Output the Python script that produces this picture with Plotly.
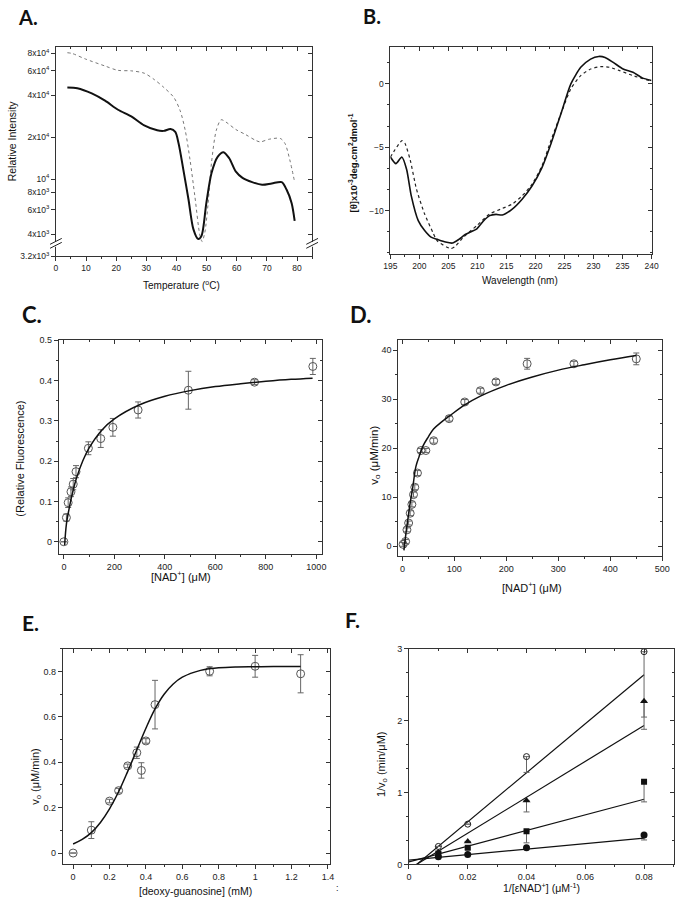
import plotly.graph_objects as go

W, H = 683, 905
FONT = "Liberation Sans, Arial, sans-serif"
LETTER_FONT = "Lato, Open Sans, sans-serif"

# ---------------- Panel A: thermal scan (log y) ----------------
a_temp_dot = [3.8, 5.4, 9.8, 16.3, 20.6, 25.0, 29.3, 32.6, 35.8, 39.1, 41.2, 42.9, 44.5, 46.1,
              47.8, 48.5, 49.4, 50.5, 51.6, 53.2, 54.8, 56.4, 59.7, 62.9, 66.2, 67.8, 70.6,
              74.4, 76.0, 77.6, 79.2]
a_int_dot = [8.1e4, 8.0e4, 7.3e4, 6.5e4, 6.05e4, 6.0e4, 5.77e4, 5.2e4, 4.56e4, 3.87e4, 3.11e4,
             2.24e4, 1.37e4, 7.5e3, 3.9e3, 3.55e3, 4.13e3, 6.7e3, 1.3e4, 2.24e4, 2.67e4, 2.57e4,
             2.27e4, 2.09e4, 1.9e4, 1.85e4, 1.93e4, 1.96e4, 1.8e4, 1.37e4, 9.5e3]
a_temp_sol = [3.8, 7.1, 11.9, 16.3, 20.6, 25.0, 29.3, 33.6, 35.8, 38.0, 39.6, 40.7, 42.3, 44.0,
              45.6, 47.2, 48.3, 49.9, 51.6, 53.7, 55.6, 57.5, 59.7, 61.9, 65.1, 68.4, 71.6,
              74.9, 76.5, 78.2, 79.2]
a_int_sol = [4.56e4, 4.5e4, 4.13e4, 3.66e4, 3.15e4, 2.82e4, 2.43e4, 2.24e4, 2.22e4, 2.29e4,
             2.18e4, 1.8e4, 1.16e4, 7.1e3, 4.36e3, 3.7e3, 3.9e3, 6.7e3, 1.1e4, 1.45e4, 1.56e4,
             1.41e4, 1.13e4, 1.02e4, 9.5e3, 9.1e3, 9.3e3, 9.5e3, 8.4e3, 6.7e3, 5.0e3]
a_ytick_vals = [2786, 4e3, 6e3, 8e3, 1e4, 2e4, 4e4, 6e4, 8e4]
a_ytick_text = ["3.2x10<sup>3</sup>", "4x10<sup>3</sup>", "6x10<sup>3</sup>", "8x10<sup>3</sup>",
                "10<sup>4</sup>", "2x10<sup>4</sup>", "4x10<sup>4</sup>", "6x10<sup>4</sup>",
                "8x10<sup>4</sup>"]

# ---------------- Panel B: CD spectra ----------------
b_wl_sol = [195, 195.95, 196.96, 197.8, 198.6, 199.8, 200.9, 202.0, 203.1, 204.5, 205.7, 206.8,
            207.9, 209.9, 211.0, 212.1, 213.2, 214.3, 216.0, 217.7, 219.4, 221.1, 222.7, 224.4,
            226.1, 227.8, 229.5, 230.9, 232.0, 233.4, 235.1, 236.8, 238.4, 240.0]
b_th_sol = [-5.77, -6.29, -5.77, -6.75, -8.83, -10.78, -11.56, -12.08, -12.26, -12.47, -12.55,
            -12.26, -11.87, -11.43, -10.83, -10.39, -10.29, -10.34, -9.87, -9.09, -8.05, -6.62,
            -4.68, -2.34, 0.0, 1.3, 1.95, 2.16, 2.08, 1.69, 1.17, 0.91, 0.47, 0.26]
b_wl_dot = [195, 195.8, 197.0, 197.5, 198.4, 199.5, 200.9, 202.3, 203.1, 205.4, 206.2, 207.6,
            209.9, 212.1, 214.3, 216.0, 217.7, 219.4, 221.1, 222.7, 224.4, 226.1, 227.8, 229.5,
            231.2, 232.8, 234.5, 236.8, 240.0]
b_th_dot = [-5.77, -5.19, -4.47, -4.68, -5.97, -8.31, -10.26, -11.69, -12.39, -12.99, -12.8,
            -12.08, -11.17, -10.26, -9.82, -9.48, -8.83, -7.92, -6.49, -4.42, -2.34, -0.39,
            0.65, 1.17, 1.35, 1.3, 1.04, 0.65, 0.21]

# ---------------- Panel C: fluorescence binding ----------------
c_nad = [0, 10, 17, 28, 37, 48, 97, 146, 194, 294, 493, 755, 986]
c_fl = [0, 0.06, 0.097, 0.124, 0.143, 0.174, 0.232, 0.256, 0.284, 0.327, 0.376, 0.396, 0.435]
c_err = [0, 0.009, 0.012, 0.012, 0.014, 0.015, 0.016, 0.022, 0.022, 0.02, 0.047, 0.006, 0.02]
c_fit_x = [3, 10, 20, 30, 40, 50, 75, 100, 150, 200, 300, 400, 500, 600, 700, 800, 900, 985]
c_fit_y = [-0.008, 0.044, 0.08, 0.11, 0.136, 0.158, 0.201, 0.233, 0.277, 0.305, 0.34, 0.361,
           0.375, 0.385, 0.392, 0.398, 0.403, 0.406]

# ---------------- Panel D: kinetics vs NAD+ ----------------
d_nad = [1.3, 6.2, 8.8, 12, 15, 18.3, 21.4, 23.9, 29, 35.8, 45.2, 60.2, 90, 120, 150, 180, 240,
         330, 450]
d_v = [0.35, 0.93, 3.3, 4.7, 6.7, 8.5, 10.5, 12.0, 14.9, 19.5, 19.5, 21.5, 26.0, 29.4, 31.7,
       33.5, 37.2, 37.2, 38.2]
d_err = [0.4, 0.4, 0.4, 0.4, 0.5, 0.5, 0.5, 0.5, 0.5, 0.4, 0.4, 0.5, 0.5, 0.5, 0.5, 0.5, 1.1,
         0.5, 1.2]
d_fit_x = [3, 5, 8, 11, 15, 20, 26, 32, 40, 50, 60, 75, 90, 120, 150, 200, 250, 300, 350, 400, 450]
d_fit_y = [-0.9, 1.0, 3.5, 5.8, 8.8, 12.0, 16.2, 18.2, 20.5, 22.3, 23.9, 25.3, 26.5, 28.8, 30.6,
           32.8, 34.5, 35.9, 37.0, 38.0, 38.9]

# ---------------- Panel E: kinetics vs deoxy-guanosine ----------------
e_dg = [0, 0.1, 0.2, 0.25, 0.3, 0.35, 0.375, 0.4, 0.45, 0.75, 1.0, 1.25]
e_v = [0, 0.101, 0.229, 0.275, 0.384, 0.442, 0.364, 0.494, 0.654, 0.801, 0.823, 0.79]
e_err = [0, 0.037, 0.008, 0.01, 0.008, 0.025, 0.034, 0.01, 0.107, 0.02, 0.048, 0.084]
e_fit_x = [0, 0.05, 0.1, 0.15, 0.2, 0.25, 0.3, 0.35, 0.4, 0.45, 0.5, 0.55, 0.6, 0.7, 0.8, 0.9,
           1.0, 1.1, 1.25]
e_fit_y = [0.04, 0.06, 0.09, 0.135, 0.195, 0.27, 0.36, 0.455, 0.55, 0.635, 0.70, 0.745, 0.775,
           0.805, 0.816, 0.82, 0.821, 0.822, 0.822]

# ---------------- Panel F: double reciprocal ----------------
f_inv = [0.01, 0.02, 0.04, 0.08]
f_open = [0.25, 0.56, 1.50, 2.96]
f_open_err = [0, 0, 0.22, 0.91]
f_tri = [0.17, 0.32, 0.89, 2.27]
f_tri_err = [0, 0, 0.16, 0.39]
f_sq = [0.15, 0.23, 0.46, 1.15]
f_sq_err = [0, 0.02, 0.16, 0.28]
f_fill = [0.105, 0.137, 0.23, 0.41]
f_fill_err = [0, 0, 0.01, 0.07]
f_line_x = [0, 0.08]
f_line_open = [-0.09, 2.64]
f_line_tri = [-0.065, 1.933]
f_line_sq = [0.036, 0.907]
f_line_fill = [0.06, 0.366]

# ---------------- layout geometry (pixels) ----------------
frames = {  # left, right, top, bottom
    1: (50, 312, 42, 254),
    2: (392, 659, 42, 252),
    3: (53, 322, 339, 555),
    4: (400, 670, 339, 557),
    5: (57, 330, 651, 869),
    6: (411, 682, 651, 869),
}
axes_cfg = {
    1: dict(xr=[0, 85], yr=[3.445, 4.953], xd=10, xm=5, yd=None, ym=None, ylog=True, tf=8.5),
    2: dict(xr=[195, 240], yr=[-13.43, 2.94], xd=5, xm=2.5, yd=5, ym=5 / 3, ylog=False, tf=8.5),
    3: dict(xr=[-20, 1022], yr=[-0.03, 0.5], xd=200, xm=100, yd=0.1, ym=0.05, ylog=False, tf=9),
    4: dict(xr=[-8, 500], yr=[-2, 42], xd=100, xm=50, yd=10, ym=5, ylog=False, tf=9),
    5: dict(xr=[-0.057, 1.41], yr=[-0.05, 0.9], xd=0.2, xm=0.1, yd=0.2, ym=0.1, ylog=False, tf=9),
    6: dict(xr=[0, 0.0902], yr=[0, 3], xd=0.02, xm=0.01, yd=1, ym=1 / 3, ylog=False, tf=9),
}


def px(x):
    return x / W


def py(y):
    return 1 - y / H


def nm(kind, i):
    return f"{kind}axis" + ("" if i == 1 else str(i))


def ref(kind, i):
    return kind + ("" if i == 1 else str(i))


fig = go.Figure()
layout = dict(width=W, height=H, margin=dict(l=0, r=0, t=0, b=0),
              paper_bgcolor="white", plot_bgcolor="white", showlegend=False,
              font=dict(family=FONT, color="#222"))

AX = "#333"
for i in range(1, 7):
    L, R, T, B = frames[i]
    c = axes_cfg[i]
    xdom = [px(L), px(R)]
    ydom = [py(B), py(T)]
    xa = dict(domain=xdom, range=c["xr"], anchor=ref("y", i), showline=True, linecolor=AX,
              linewidth=1, mirror=True, ticks="outside", ticklen=4, tickcolor=AX,
              showgrid=False, zeroline=False, dtick=c["xd"], tick0=0,
              tickfont=dict(size=c["tf"], family=FONT, color="#222"),
              minor=dict(ticks="outside", ticklen=2, tickcolor=AX, dtick=c["xm"], tick0=0,
                         showgrid=False))
    ya = dict(domain=ydom, range=c["yr"], anchor=ref("x", i), showline=True, linecolor=AX,
              linewidth=1, mirror=True, ticks="outside", ticklen=4, tickcolor=AX,
              showgrid=False, zeroline=False,
              tickfont=dict(size=c["tf"], family=FONT, color="#222"))
    if c["ylog"]:
        ya.update(type="log", tickmode="array", tickvals=a_ytick_vals, ticktext=a_ytick_text)
    else:
        ya.update(dtick=c["yd"], tick0=0,
                  minor=dict(ticks="outside", ticklen=2, tickcolor=AX, dtick=c["ym"], tick0=0,
                             showgrid=False))
    layout[nm("x", i)] = xa
    layout[nm("y", i)] = ya

    # overlay axes for inward top/right ticks
    j = i + 6
    xo = dict(overlaying=ref("x", i), side="top", anchor=ref("y", i), range=c["xr"],
              showline=False, ticks="inside", ticklen=4, tickcolor=AX, showticklabels=False,
              showgrid=False, zeroline=False, dtick=c["xd"], tick0=0,
              minor=dict(ticks="inside", ticklen=2, tickcolor=AX, dtick=c["xm"], tick0=0,
                         showgrid=False))
    yo = dict(overlaying=ref("y", i), side="right", anchor=ref("x", i), range=c["yr"],
              showline=False, ticks="inside", ticklen=4, tickcolor=AX, showticklabels=False,
              showgrid=False, zeroline=False)
    if c["ylog"]:
        yo.update(type="log", tickmode="array", tickvals=a_ytick_vals)
    else:
        yo.update(dtick=c["yd"], tick0=0,
                  minor=dict(ticks="inside", ticklen=2, tickcolor=AX, dtick=c["ym"], tick0=0,
                             showgrid=False))
    layout[nm("x", j)] = xo
    layout[nm("y", j)] = yo
    fig.add_trace(go.Scatter(x=[None], y=[None], xaxis=ref("x", j), yaxis=ref("y", i),
                             hoverinfo="skip", mode="markers"))
    fig.add_trace(go.Scatter(x=[None], y=[None], xaxis=ref("x", i), yaxis=ref("y", j),
                             hoverinfo="skip", mode="markers"))

# ---- Panel A traces
fig.add_trace(go.Scatter(x=a_temp_dot, y=a_int_dot, mode="lines", xaxis="x", yaxis="y",
                         line=dict(color="#777", width=1, dash="dot", shape="spline",
                                   smoothing=0.8)))
fig.add_trace(go.Scatter(x=a_temp_sol, y=a_int_sol, mode="lines", xaxis="x", yaxis="y",
                         line=dict(color="#111", width=2, shape="spline", smoothing=0.8)))

# ---- Panel B traces
fig.add_trace(go.Scatter(x=b_wl_dot, y=b_th_dot, mode="lines", xaxis="x2", yaxis="y2",
                         line=dict(color="#222", width=1.2, dash="dot", shape="spline",
                                   smoothing=0.6)))
fig.add_trace(go.Scatter(x=b_wl_sol, y=b_th_sol, mode="lines", xaxis="x2", yaxis="y2",
                         line=dict(color="#111", width=1.6, shape="spline", smoothing=0.6)))

MK_OPEN = dict(symbol="circle-open", size=8, color="#555", line=dict(width=1, color="#555"))
ERR = dict(color="#666", thickness=1, width=3)

# ---- Panel C
fig.add_trace(go.Scatter(x=c_nad, y=c_fl, mode="markers", xaxis="x3", yaxis="y3",
                         marker=MK_OPEN, error_y=dict(type="data", array=c_err, **ERR)))
fig.add_trace(go.Scatter(x=c_fit_x, y=c_fit_y, mode="lines", xaxis="x3", yaxis="y3",
                         line=dict(color="#111", width=1.5, shape="spline")))

# ---- Panel D
fig.add_trace(go.Scatter(x=d_nad, y=d_v, mode="markers", xaxis="x4", yaxis="y4",
                         marker=MK_OPEN, error_y=dict(type="data", array=d_err, **ERR)))
fig.add_trace(go.Scatter(x=d_fit_x, y=d_fit_y, mode="lines", xaxis="x4", yaxis="y4",
                         line=dict(color="#111", width=1.5, shape="spline")))

# ---- Panel E
fig.add_trace(go.Scatter(x=e_dg, y=e_v, mode="markers", xaxis="x5", yaxis="y5",
                         marker=MK_OPEN, error_y=dict(type="data", array=e_err, **ERR)))
fig.add_trace(go.Scatter(x=e_fit_x, y=e_fit_y, mode="lines", xaxis="x5", yaxis="y5",
                         line=dict(color="#111", width=1.5, shape="spline")))

# ---- Panel F
for ly in [f_line_open, f_line_tri, f_line_sq, f_line_fill]:
    fig.add_trace(go.Scatter(x=f_line_x, y=ly, mode="lines", xaxis="x6", yaxis="y6",
                             line=dict(color="#111", width=1.2)))
series_f = [
    (f_open, f_open_err, dict(symbol="circle-open", size=6, color="#222",
                              line=dict(width=1, color="#222"))),
    (f_tri, f_tri_err, dict(symbol="triangle-up", size=7, color="#111")),
    (f_sq, f_sq_err, dict(symbol="square", size=6, color="#111")),
    (f_fill, f_fill_err, dict(symbol="circle", size=7, color="#111")),
]
for yv, em, mk in series_f:
    fig.add_trace(go.Scatter(x=f_inv, y=yv, mode="markers", xaxis="x6", yaxis="y6", marker=mk,
                             error_y=dict(type="data", symmetric=False, array=[0] * len(em),
                                          arrayminus=em, **ERR)))

# ---------------- annotations ----------------
ann = []


def text(x, y, s, size, angle=0, family=FONT, xanchor="center"):
    ann.append(dict(x=px(x), y=py(y), xref="paper", yref="paper", text=s, showarrow=False,
                    textangle=angle, xanchor=xanchor, yanchor="middle", borderpad=0,
                    font=dict(size=size, family=family, color="#111")))


# panel letters
for s, x, y, sz in [("A.", 10, 12, 20), ("B.", 363, 11, 20), ("C.", 14, 313, 22),
                    ("D.", 350, 313, 22), ("E.", 14, 624, 21), ("F.", 345, 621, 21)]:
    text(x, y, "<b>" + s + "</b>", sz, family=LETTER_FONT, xanchor="left")

# axis titles
text(178, 283, "Temperature (<sup>o</sup>C)", 10)
text(6, 137, "Relative Intensity", 10.5, angle=-90)
text(525, 279, "Wavelength (nm)", 10)
text(354, 160, "<b>[θ]x10<sup>-3</sup>deg.cm<sup>2</sup>dmol<sup>-1</sup></b>", 9.5, angle=-90)
text(178, 577, "[NAD<sup>+</sup>] (μM)", 11)
text(13, 459, "(Relative Fluorescence)", 11, angle=-90)
text(537, 588, "[NAD<sup>+</sup>] (μM)", 11)
text(376, 455, "v<sub>o</sub> (μM/min)", 11.5, angle=-90)
text(193, 896, "[deoxy-guanosine] (mM)", 10.5)
text(30, 780, "v<sub>o</sub> (μM/min)", 11, angle=-90)
text(547, 892, "1/[εNAD<sup>+</sup>] (μM<sup>-1</sup>)", 10.5)
text(383, 768, "1/v<sub>o</sub> (min/μM)", 11, angle=-90)
text(338, 893, ":", 9)

layout["annotations"] = ann

# axis break marks in panel A (left and right y axes)
shapes = []
for xa in (50, 312):
    shapes.append(dict(type="rect", xref="paper", yref="paper", x0=px(xa - 3), x1=px(xa + 3),
                       y0=py(244.5), y1=py(239.5), fillcolor="white", line=dict(width=0),
                       layer="above"))
    for dy in (0, -4):
        shapes.append(dict(type="line", xref="paper", yref="paper", x0=px(xa - 6),
                           y0=py(246 + dy), x1=px(xa + 6), y1=py(240 + dy),
                           line=dict(color="#222", width=1), layer="above"))
layout["shapes"] = shapes

fig.update_layout(**layout)
fig.write_html(
    "out.html",
    config={"displayModeBar": False, "displaylogo": False},
    post_script="document.body.style.margin='0';document.body.style.padding='0';"
                "document.documentElement.style.overflow='hidden';",
)
